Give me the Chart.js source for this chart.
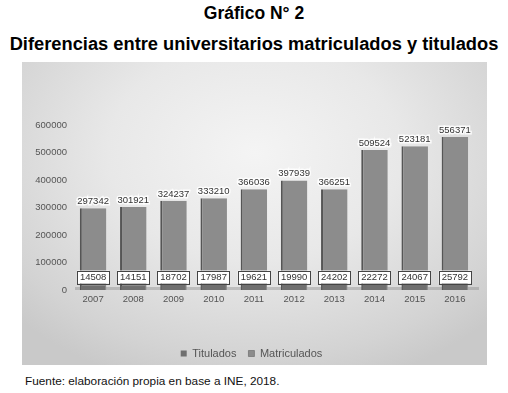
<!DOCTYPE html>
<html lang="es">
<head>
    <meta charset="UTF-8">
    <script src="https://cdn.jsdelivr.net/npm/chart.js"></script>
    <title>Gráfico N° 2</title>
    <style>
        body, html {
            margin: 0;
            padding: 0;
            width: 508px;
            height: 393px;
            background: #fff;
            font-family: "Liberation Sans", Arial, sans-serif;
            overflow: hidden;
        }

        .title {
            position: absolute;
            left: 0;
            width: 508px;
            text-align: center;
            font-weight: bold;
            color: #000;
            white-space: nowrap;
        }

        #t1 { top: 3px; font-size: 17.5px; }
        #t2 { top: 33px; font-size: 18.3px; }

        #chart-box {
            position: absolute;
            left: 22px;
            top: 62px;
            width: 465px;
            height: 303px;
            background: radial-gradient(ellipse 70% 80% at 50% 30%, #f4f4f4 0%, #e8e8e8 45%, #d3d3d3 85%, #c9c9c9 100%);
        }

        #footer {
            position: absolute;
            left: 25px;
            top: 374px;
            font-size: 11.8px;
            color: #111;
        }
    </style>
</head>
<body>
    <div class="title" id="t1">Gráfico N° 2</div>
    <div class="title" id="t2">Diferencias entre universitarios matriculados y titulados</div>
    <div id="chart-box">
        <canvas id="bar-chart-canvas"></canvas>
    </div>
    <div id="footer">Fuente: elaboración propia en base a INE, 2018.</div>

    <script>
        // data
        const years = ["2007", "2008", "2009", "2010", "2011", "2012", "2013", "2014", "2015", "2016"]
        const titulados = [14508, 14151, 18702, 17987, 19621, 19990, 24202, 22272, 24067, 25792]
        const matriculados = [297342, 301921, 324237, 333210, 366036, 397939, 366251, 509524, 523181, 556371]

        // labels on top of the bars and boxed labels near the floor
        const valueLabels = {
            id: 'valueLabels',
            afterDatasetsDraw(chart) {
                const ctx = chart.ctx
                const area = chart.chartArea
                ctx.save()
                ctx.font = '9.5px "Liberation Sans", Arial, sans-serif'
                ctx.textAlign = 'center'
                ctx.textBaseline = 'bottom'

                // big values above bars
                chart.getDatasetMeta(1).data.forEach((bar, i) => {
                    let txt = String(matriculados[i])
                    ctx.lineWidth = 3
                    ctx.strokeStyle = 'rgba(255,255,255,0.85)'
                    ctx.strokeText(txt, bar.x, bar.y - 2)
                    ctx.fillStyle = '#333'
                    ctx.fillText(txt, bar.x, bar.y - 2)
                })

                // small values in white boxes
                ctx.textBaseline = 'middle'
                chart.getDatasetMeta(0).data.forEach((bar, i) => {
                    let txt = String(titulados[i])
                    let w = ctx.measureText(txt).width + 6
                    let h = 13
                    let cy = area.bottom - 13
                    ctx.fillStyle = '#fff'
                    ctx.fillRect(bar.x - w / 2, cy - h / 2, w, h)
                    ctx.lineWidth = 1
                    ctx.strokeStyle = '#444'
                    ctx.strokeRect(Math.round(bar.x - w / 2) + 0.5, Math.round(cy - h / 2) + 0.5, Math.round(w), h)
                    ctx.fillStyle = '#333'
                    ctx.fillText(txt, bar.x, cy + 0.5)
                })
                ctx.restore()
            }
        }

        // grey floor under the bars
        const floorLine = {
            id: 'floorLine',
            beforeDatasetsDraw(chart) {
                const ctx = chart.ctx
                const area = chart.chartArea
                ctx.save()
                ctx.fillStyle = 'rgba(120,120,120,0.35)'
                ctx.fillRect(area.left + 2, area.bottom - 3, area.right - area.left + 2, 3)
                ctx.restore()
            }
        }

        let bar_canvas = document.getElementById("bar-chart-canvas").getContext("2d")
        let barChart = new Chart(bar_canvas, {
            type: 'bar',
            data: {
                labels: years,
                datasets: [{
                    label: 'Titulados',
                    data: titulados,
                    backgroundColor: '#6f6f6f',
                    grouped: false,
                    barPercentage: 0.6,
                    categoryPercentage: 1.0
                }, {
                    label: 'Matriculados',
                    data: matriculados,
                    backgroundColor: '#8c8c8c',
                    borderColor: '#555',
                    borderWidth: { left: 2, right: 0, top: 0, bottom: 0 },
                    grouped: false,
                    barPercentage: 0.66,
                    categoryPercentage: 1.0
                }]
            },
            options: {
                responsive: true,
                maintainAspectRatio: false,
                animation: false,
                layout: {
                    padding: { left: 6, right: 12, top: 63, bottom: -4 }
                },
                plugins: {
                    legend: {
                        position: 'bottom',
                        labels: {
                            boxWidth: 6,
                            boxHeight: 6,
                            padding: 12,
                            color: '#555',
                            font: { size: 11, family: '"Liberation Sans", Arial, sans-serif' }
                        }
                    },
                    tooltip: { enabled: false }
                },
                scales: {
                    x: {
                        grid: { display: false, drawTicks: false },
                        border: { display: false },
                        ticks: {
                            color: '#555',
                            font: { size: 9.5, family: '"Liberation Sans", Arial, sans-serif' },
                            padding: 4
                        },
                        afterFit: s => { s.height = 46 }
                    },
                    y: {
                        min: 0,
                        max: 600000,
                        grid: { display: false, drawTicks: false },
                        border: { display: false },
                        ticks: {
                            stepSize: 100000,
                            color: '#555',
                            font: { size: 9.5, family: '"Liberation Sans", Arial, sans-serif' },
                            padding: 6,
                            callback: v => String(v)
                        },
                        afterFit: s => { s.width = 45 }
                    }
                }
            },
            plugins: [floorLine, valueLabels]
        })
    </script>
</body>
</html>
